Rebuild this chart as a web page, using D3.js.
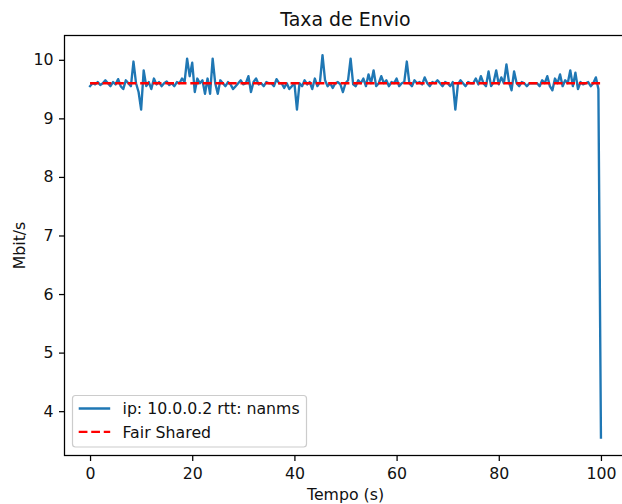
<!DOCTYPE html>
<html>
<head>
<meta charset="utf-8">
<script src="https://cdn.jsdelivr.net/npm/d3@7"></script>
<style>
  html, body { margin: 0; padding: 0; background: #fff; }
  svg { display: block; font-family: "DejaVu Sans", sans-serif; }
</style>
</head>
<body>
<svg id="chart" width="622" height="504"></svg>
<script>
// Send rate samples, one every 0.5 s from 0 to 100 s (Mbit/s)
const sendRate = [
  9.55, 9.60, 9.58, 9.62, 9.57, 9.60, 9.65, 9.60, 9.55, 9.62,
  9.58, 9.67, 9.55, 9.50, 9.65, 9.60, 9.55, 9.97, 9.60, 9.45,
  9.15, 9.82, 9.55, 9.62, 9.50, 9.68, 9.58, 9.62, 9.55, 9.60,
  9.63, 9.57, 9.60, 9.55, 9.62, 9.60, 9.68, 9.62, 10.02, 9.72,
  9.95, 9.45, 9.68, 9.60, 9.65, 9.42, 9.68, 9.42, 10.02, 9.60,
  9.42, 9.65, 9.60, 9.55, 9.62, 9.58, 9.50, 9.55, 9.60, 9.65,
  9.58, 9.60, 9.72, 9.45, 9.62, 9.68, 9.58, 9.60, 9.55, 9.62,
  9.60, 9.60, 9.55, 9.67, 9.60, 9.60, 9.52, 9.60, 9.50, 9.55,
  9.60, 9.15, 9.60, 9.55, 9.65, 9.58, 9.62, 9.50, 9.68, 9.55,
  9.62, 10.08, 9.65, 9.55, 9.60, 9.52, 9.60, 9.62, 9.58, 9.45,
  9.60, 9.65, 10.02, 9.58, 9.55, 9.65, 9.60, 9.68, 9.55, 9.75,
  9.60, 9.82, 9.55, 9.60, 9.72, 9.60, 9.65, 9.55, 9.62, 9.60,
  9.68, 9.55, 9.60, 9.62, 9.97, 9.60, 9.55, 9.65, 9.60, 9.62,
  9.58, 9.70, 9.60, 9.55, 9.62, 9.60, 9.65, 9.60, 9.55, 9.62,
  9.60, 9.55, 9.62, 9.15, 9.58, 9.65, 9.60, 9.55, 9.62, 9.60,
  9.60, 9.68, 9.58, 9.72, 9.60, 9.55, 9.80, 9.55, 9.62, 9.82,
  9.58, 9.70, 9.60, 9.92, 9.62, 9.48, 9.80, 9.60, 9.55, 9.62,
  9.60, 9.55, 9.60, 9.60, 9.60, 9.60, 9.55, 9.65, 9.60, 9.72,
  9.55, 9.48, 9.68, 9.60, 9.75, 9.55, 9.65, 9.60, 9.82, 9.55,
  9.78, 9.50, 9.62, 9.58, 9.60, 9.62, 9.55, 9.60, 9.70, 9.50,
  3.55
];
const tempo = d3.range(sendRate.length).map(i => i * 0.5);

// Fair share reference level
const fairTempo = [0, 100];
const fairShare = [9.6, 9.6];

const xTicks = [0, 20, 40, 60, 80, 100];
const yTicks = [4, 5, 6, 7, 8, 9, 10];

const seriesLabels = ["ip: 10.0.0.2 rtt: nanms", "Fair Shared"];
const seriesColors = ["#1f77b4", "#ff0000"];

const svg = d3.select("#chart");
const plot = { left: 64.5, right: 626.5, top: 35.5, bottom: 455.5 };
const pt = 113.5 / 72;     // px per point
const fs = 10 * pt;        // base font size
const lw = 1.5 * pt;       // line width
const dash = `${5.55 * pt},${2.4 * pt}`;
const tick = 3.5 * pt;

const x = d3.scaleLinear().domain([-5, 105]).range([plot.left, plot.right]);
const y = d3.scaleLinear().domain([3.243, 10.415]).range([plot.bottom, plot.top]);

svg.append("rect").attr("width", 622).attr("height", 504).attr("fill", "#fff");

svg.append("clipPath").attr("id", "plotclip")
  .append("rect")
  .attr("x", plot.left).attr("y", plot.top)
  .attr("width", plot.right - plot.left).attr("height", plot.bottom - plot.top);

const line = d3.line().x(d => x(d[0])).y(d => y(d[1]));

const g = svg.append("g").attr("clip-path", "url(#plotclip)");

g.append("path")
  .datum(tempo.map((t, i) => [t, sendRate[i]]))
  .attr("fill", "none")
  .attr("stroke", seriesColors[0])
  .attr("stroke-width", lw)
  .attr("stroke-linejoin", "round")
  .attr("stroke-linecap", "square")
  .attr("d", line);

g.append("path")
  .datum(fairTempo.map((t, i) => [t, fairShare[i]]))
  .attr("fill", "none")
  .attr("stroke", seriesColors[1])
  .attr("stroke-width", lw)
  .attr("stroke-dasharray", dash)
  .attr("d", line);

// Axes
const xAxis = d3.axisBottom(x).tickValues(xTicks).tickSize(tick).tickPadding(tick).tickFormat(d3.format("d"));
const yAxis = d3.axisLeft(y).tickValues(yTicks).tickSize(tick).tickPadding(tick).tickFormat(d3.format("d"));

const gx = svg.append("g").attr("transform", `translate(0,${plot.bottom})`).call(xAxis);
const gy = svg.append("g").attr("transform", `translate(${plot.left},0)`).call(yAxis);
[gx, gy].forEach(a => {
  a.select(".domain").remove();
  a.selectAll("text").attr("font-family", "DejaVu Sans").attr("font-size", fs).attr("fill", "#111");
  a.selectAll("line").attr("stroke", "#000").attr("stroke-width", 0.8 * pt);
});
gx.selectAll("text").attr("dy", "0.76em");

// Frame
svg.append("rect")
  .attr("x", plot.left).attr("y", plot.top)
  .attr("width", plot.right - plot.left).attr("height", plot.bottom - plot.top)
  .attr("fill", "none").attr("stroke", "#000").attr("stroke-width", 0.8 * pt);

// Title and labels
const cx = (plot.left + plot.right) / 2;
svg.append("text").attr("x", cx).attr("y", 26).attr("text-anchor", "middle")
  .attr("font-size", 12 * pt).attr("fill", "#111").text("Taxa de Envio");
svg.append("text").attr("x", cx).attr("y", 499.5).attr("text-anchor", "middle")
  .attr("font-size", fs).attr("fill", "#111").text("Tempo (s)");
svg.append("text")
  .attr("transform", `translate(25,${(plot.top + plot.bottom) / 2}) rotate(-90)`)
  .attr("text-anchor", "middle")
  .attr("font-size", fs).attr("fill", "#111").text("Mbit/s");

// Legend
const lg = svg.append("g");
lg.append("rect")
  .attr("x", 72.5).attr("y", 395.5).attr("width", 234).attr("height", 51.5)
  .attr("rx", 3).attr("fill", "#fff").attr("fill-opacity", 0.8)
  .attr("stroke", "#cccccc").attr("stroke-width", 1.2);
seriesLabels.forEach((lab, i) => {
  const yy = 408.5 + i * 23.4;
  lg.append("line")
    .attr("x1", 78.7).attr("x2", 110.2).attr("y1", yy).attr("y2", yy)
    .attr("stroke", seriesColors[i]).attr("stroke-width", lw)
    .attr("stroke-dasharray", i === 1 ? dash : null);
  lg.append("text").attr("x", 122.5).attr("y", yy).attr("dy", "0.36em")
    .attr("font-size", fs).attr("fill", "#111").text(lab);
});
</script>
</body>
</html>
